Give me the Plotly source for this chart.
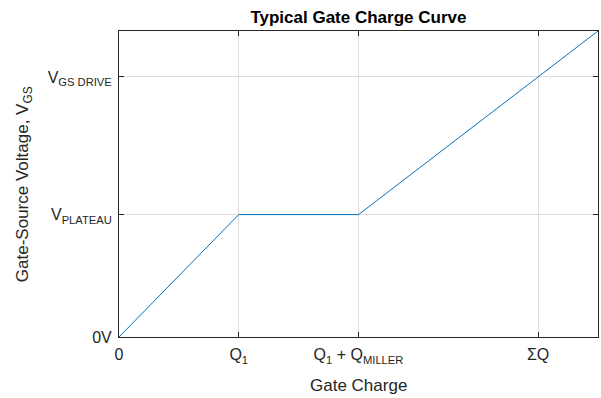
import plotly.graph_objects as go

charge = [0, 1, 2, 4]
vgs = [0, 4, 4, 10]
x_tick_vals = [0, 1, 2, 3.5]
x_tick_text = ["0", "Q<sub>1</sub>", "Q<sub>1</sub> + Q<sub>MILLER</sub>", "ΣQ"]
y_tick_vals = [0, 4, 8.5]
y_tick_text = ["0V", "V<sub>PLATEAU</sub>", "V<sub>GS DRIVE</sub>"]

fig = go.Figure(go.Scatter(x=charge, y=vgs, mode="lines",
                           line=dict(color="#0072BD", width=1), showlegend=False))

font = "Liberation Sans, Arial, sans-serif"
axis_common = dict(showline=True, linecolor="#262626", linewidth=1, mirror="ticks",
                   ticks="inside", ticklen=5, tickcolor="#262626", automargin=False,
                   showgrid=True, gridcolor="#dedede", gridwidth=1, zeroline=False,
                   tickfont=dict(family=font, size=16, color="#262626"))

fig.update_xaxes(range=[0, 4], tickvals=x_tick_vals, ticktext=x_tick_text, ticklabelstandoff=3,
                 **axis_common)
fig.update_yaxes(range=[0, 10], tickvals=y_tick_vals, ticktext=y_tick_text, ticklabelstandoff=3,
                 **axis_common)

fig.update_layout(
    width=601, height=398,
    margin=dict(l=119, r=3, t=31, b=61),
    paper_bgcolor="white", plot_bgcolor="white",
    title=dict(text="<b>Typical Gate Charge Curve</b>", x=0.5964, xanchor="center",
               y=0.957, yanchor="middle",
               font=dict(family=font, size=17, color="black")),
    annotations=[
        dict(text="Gate Charge", xref="paper", yref="paper", x=0.5, y=-0.158,
             xanchor="center", yanchor="middle", showarrow=False,
             font=dict(family=font, size=17, color="#262626")),
        dict(text="Gate-Source Voltage, V<sub>GS</sub>", xref="paper", yref="paper",
             x=-0.198, y=0.5, xanchor="center", yanchor="middle", textangle=-90,
             showarrow=False, font=dict(family=font, size=17, color="#262626")),
    ],
)

fig.write_html("out.html", config={"displayModeBar": False},
               post_script="document.body.style.margin='0';")
